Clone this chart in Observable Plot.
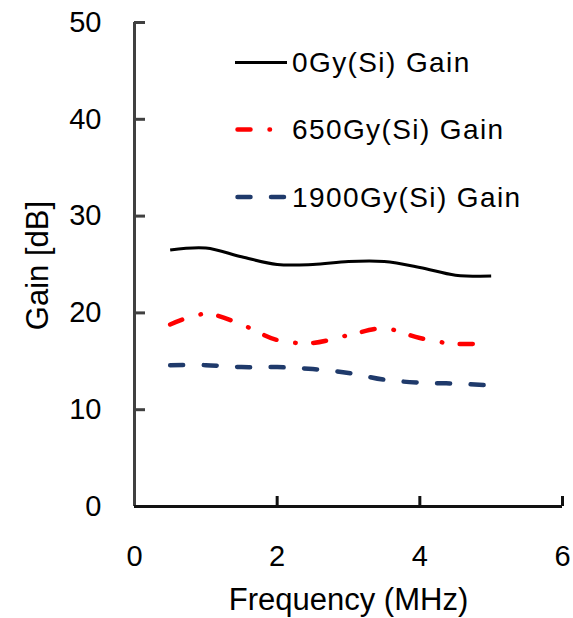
<!DOCTYPE html>
<html><head><meta charset="utf-8">
<script src="https://cdn.jsdelivr.net/npm/d3@7"></script>
<script src="https://cdn.jsdelivr.net/npm/@observablehq/plot@0.6"></script>
<style>
body{margin:0;background:#fff;}
#wrap{position:relative;width:573px;height:618px;font-family:"Liberation Sans",Arial,sans-serif;}
#legend{position:absolute;left:0;top:0;pointer-events:none;}
</style></head><body><div id="wrap"></div>
<script>
const freq = [0.5, 1, 1.5, 2, 2.5, 3, 3.5, 4, 4.5, 5];
const gain0 = [26.5, 26.7, 25.8, 25.0, 25.0, 25.3, 25.3, 24.7, 23.9, 23.8];
const gain650 = [18.8, 19.9, 18.8, 17.2, 16.9, 17.7, 18.4, 17.4, 16.8, 16.9];
const gain1900 = [14.6, 14.6, 14.4, 14.4, 14.2, 13.8, 13.1, 12.8, 12.7, 12.5];
const seriesNames = ["0Gy(Si) Gain", "650Gy(Si) Gain", "1900Gy(Si) Gain"];
const xTicks = [0, 2, 4, 6];
const yTicks = [0, 10, 20, 30, 40, 50];
const xTitle = "Frequency (MHz)";
const yTitle = "Gain [dB]";

const styles = [
  {stroke: "#000000", strokeWidth: 3, dash: null, cap: "butt"},
  {stroke: "#ff0000", strokeWidth: 4.5, dash: "13,19,0.5,17.5", cap: "round"},
  {stroke: "#1f3a6b", strokeWidth: 4.5, dash: "13,20.5", cap: "round"}
];
const allSeries = [gain0, gain650, gain1900];
const rows = allSeries.map((vals) => freq.map((f, i) => ({f, g: vals[i]})));

const font = '"Liberation Sans", Arial, sans-serif';
const W = 573, H = 618, mL = 134, mR = 11, mT = 22, mB = 112;
const chart = Plot.plot({
  width: W, height: H,
  marginLeft: mL, marginRight: mR, marginTop: mT, marginBottom: mB,
  style: {fontFamily: font, fontSize: "29px", color: "#000", background: "#fff", overflow: "visible"},
  x: {domain: [0, 6]},
  y: {domain: [0, 50]},
  marks: [
    Plot.axisY({ticks: yTicks, tickFormat: d3.format("d"), tickSize: 0, tickPadding: 33, label: null, fill: "#000"}),
    Plot.axisX({ticks: xTicks, tickFormat: d3.format("d"), tickSize: 0, tickPadding: 39, label: null, fill: "#000"}),
    Plot.tickY(yTicks, {y: (d) => d, stroke: "#404040", strokeWidth: 3, insetRight: (W - mL - mR) - 11}),
    Plot.tickX(xTicks, {x: (d) => d, stroke: "#111", strokeWidth: 3, insetTop: (H - mT - mB) - 10}),
    Plot.ruleX([0], {stroke: "#404040", strokeWidth: 3}),
    Plot.ruleY([0], {stroke: "#111", strokeWidth: 3}),
    ...rows.map((r, k) => Plot.line(r, {
      x: "f", y: "g", curve: "catmull-rom",
      stroke: styles[k].stroke, strokeWidth: styles[k].strokeWidth,
      strokeDasharray: styles[k].dash, strokeLinecap: styles[k].cap
    })),
    Plot.text([yTitle], {frameAnchor: "left", rotate: -90, dx: -96, dy: 1, textAnchor: "middle", lineAnchor: "middle", fontSize: 31, fill: "#000"}),
    Plot.text([xTitle], {frameAnchor: "bottom", dy: 94, textAnchor: "middle", lineAnchor: "middle", fontSize: 31, fill: "#000"})
  ]
});
const wrap = document.getElementById("wrap");
wrap.appendChild(chart);

// legend overlay
const leg = d3.select(wrap).append("svg").attr("id", "legend")
  .attr("width", W).attr("height", H);
const legY = [62.5, 129.5, 197];
const legX2 = [287, 272, 285];
seriesNames.forEach((name, k) => {
  leg.append("line").attr("x1", k === 0 ? 235 : 237.5).attr("x2", legX2[k])
    .attr("y1", legY[k]).attr("y2", legY[k])
    .attr("stroke", styles[k].stroke).attr("stroke-width", styles[k].strokeWidth)
    .attr("stroke-dasharray", styles[k].dash).attr("stroke-linecap", styles[k].cap);
  leg.append("text").attr("x", 292).attr("y", legY[k]).attr("dy", "0.35em")
    .attr("font-family", font).attr("font-size", 28).attr("letter-spacing", "1.4px")
    .attr("fill", "#000").text(name);
});
</script></body></html>
